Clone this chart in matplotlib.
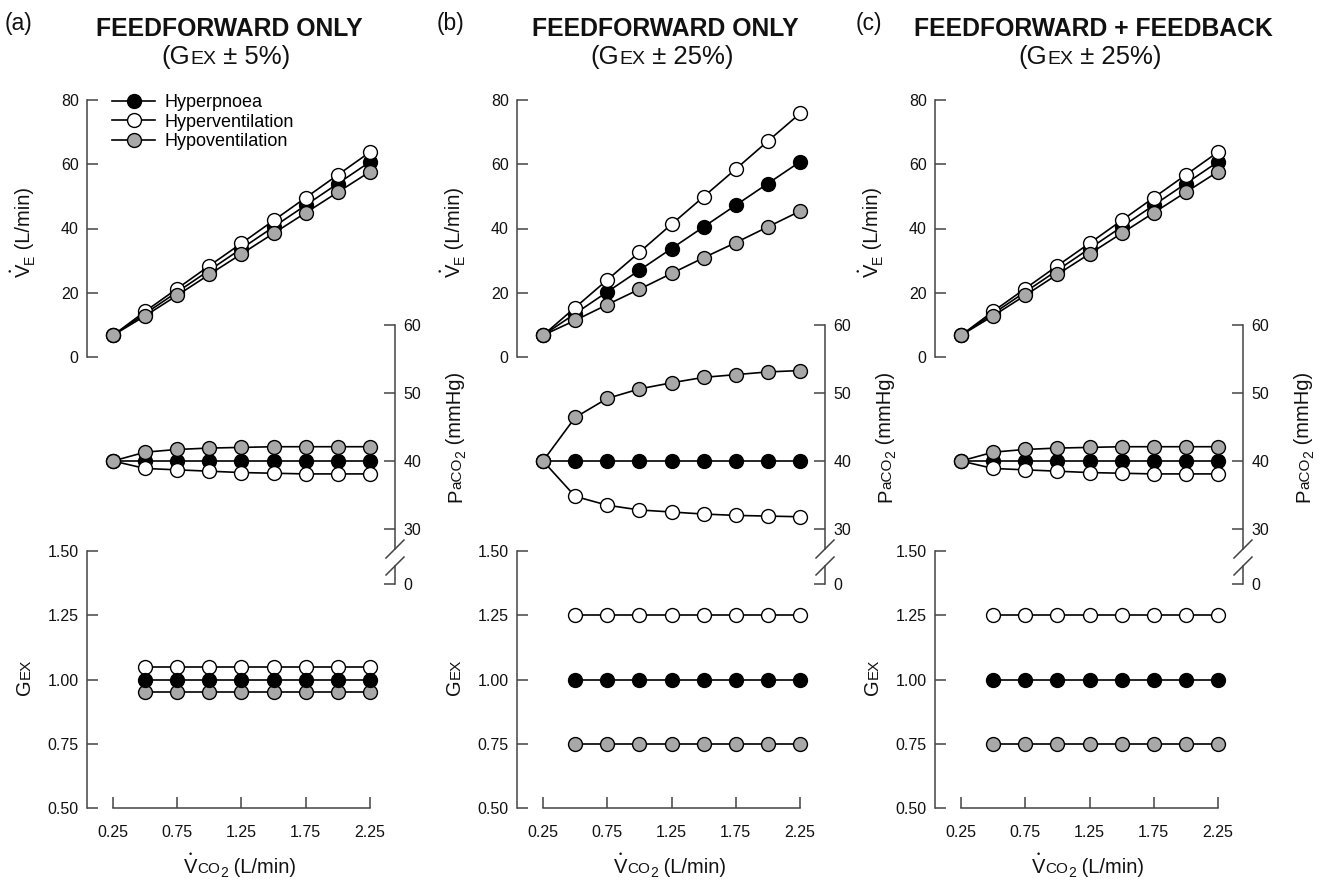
import matplotlib
matplotlib.use('Agg')
import matplotlib.pyplot as plt
from matplotlib.lines import Line2D

plt.rcParams['font.family'] = ['Liberation Sans', 'DejaVu Sans']

# ---- data ----
x_ve = [0.25, 0.5, 0.75, 1.0, 1.25, 1.5, 1.75, 2.0, 2.25]
x_gex = [0.5, 0.75, 1.0, 1.25, 1.5, 1.75, 2.0, 2.25]

ve_hyperpnoea = [6.75, 13.5, 20.25, 27.0, 33.75, 40.5, 47.25, 54.0, 60.75]
ve_a_hyperventilation = [6.75, 14.2, 21.3, 28.4, 35.4, 42.5, 49.6, 56.7, 63.8]
ve_a_hypoventilation = [6.75, 12.8, 19.2, 25.7, 32.1, 38.5, 44.9, 51.3, 57.7]
ve_b_hyperventilation = [6.75, 15.4, 24.0, 32.6, 41.3, 49.9, 58.5, 67.2, 75.8]
ve_b_hypoventilation = [6.75, 11.4, 16.3, 21.1, 26.0, 30.9, 35.6, 40.5, 45.4]

pa_hyperpnoea = [40, 40, 40, 40, 40, 40, 40, 40, 40]
pa_a_hyperventilation = [40, 38.9, 38.7, 38.5, 38.3, 38.2, 38.1, 38.1, 38.1]
pa_a_hypoventilation = [40, 41.3, 41.7, 41.9, 42.0, 42.1, 42.1, 42.1, 42.1]
pa_b_hyperventilation = [40, 34.8, 33.5, 32.8, 32.5, 32.2, 32.0, 31.9, 31.8]
pa_b_hypoventilation = [40, 46.4, 49.2, 50.6, 51.5, 52.3, 52.7, 53.1, 53.3]

gex_hyperpnoea = [1.0, 1.0, 1.0, 1.0, 1.0, 1.0, 1.0, 1.0]
gex_a_hyperventilation = [1.05, 1.05, 1.05, 1.05, 1.05, 1.05, 1.05, 1.05]
gex_a_hypoventilation = [0.95, 0.95, 0.95, 0.95, 0.95, 0.95, 0.95, 0.95]
gex_b_hyperventilation = [1.25, 1.25, 1.25, 1.25, 1.25, 1.25, 1.25, 1.25]
gex_b_hypoventilation = [0.75, 0.75, 0.75, 0.75, 0.75, 0.75, 0.75, 0.75]

series_names = ['Hyperpnoea', 'Hyperventilation', 'Hypoventilation']
series_colors = ['black', 'white', '#a8a8a8']

panel_letters = ['(a)', '(b)', '(c)']
panel_titles = ['FEEDFORWARD ONLY', 'FEEDFORWARD ONLY', 'FEEDFORWARD + FEEDBACK']
panel_pct = ['5%', '25%', '25%']

ve_ticks = [0, 20, 40, 60, 80]
pa_ticks = [30, 40, 50, 60]
gex_ticks = [0.5, 0.75, 1.0, 1.25, 1.5]
x_ticks = [0.25, 0.75, 1.25, 1.75, 2.25]

panels = [
    dict(ve=[ve_hyperpnoea, ve_a_hyperventilation, ve_a_hypoventilation],
         pa=[pa_hyperpnoea, pa_a_hyperventilation, pa_a_hypoventilation],
         gex=[gex_hyperpnoea, gex_a_hyperventilation, gex_a_hypoventilation]),
    dict(ve=[ve_hyperpnoea, ve_b_hyperventilation, ve_b_hypoventilation],
         pa=[pa_hyperpnoea, pa_b_hyperventilation, pa_b_hypoventilation],
         gex=[gex_hyperpnoea, gex_b_hyperventilation, gex_b_hypoventilation]),
    dict(ve=[ve_hyperpnoea, ve_a_hyperventilation, ve_a_hypoventilation],
         pa=[pa_hyperpnoea, pa_a_hyperventilation, pa_a_hypoventilation],
         gex=[gex_hyperpnoea, gex_b_hyperventilation, gex_b_hypoventilation]),
]

# ---- layout (pixels) ----
W, H = 1323, 886
fig = plt.figure(figsize=(W / 100, H / 100), dpi=100)
SPINE = '#444444'
TXT = '#111111'
XLIM = (0.25 - 26 / 128.5, 2.25 + 25 / 128.5)
offsets = [0, 430, 848]


def add_ax(left, top, right, bottom):
    ax = fig.add_axes([left / W, 1 - bottom / H, (right - left) / W, (bottom - top) / H])
    ax.patch.set_visible(False)
    for s in ax.spines.values():
        s.set_visible(False)
        s.set_color(SPINE)
        s.set_linewidth(1.1)
    ax.tick_params(colors=SPINE, labelcolor=TXT, labelsize=11.5,
                   direction='in', length=8, width=1.1, pad=6)
    ax.set_xlim(XLIM)
    ax.set_xticks([])
    ax.set_yticks([])
    return ax


def text_width(s, size):
    r = fig.canvas.get_renderer()
    t = fig.text(0, 0, '|' + s + '|', size=size)
    w1 = t.get_window_extent(r).width
    t.set_text('||')
    w2 = t.get_window_extent(r).width
    t.remove()
    return w1 - w2


def rich(x, y, pieces, rot=0):
    # pieces: (text, size, upward shift px); 'VDOT' = V with a dot above
    widths = [text_width('V' if s == 'VDOT' else s, sz) for s, sz, _ in pieces]
    pos = -sum(widths) / 2

    def put(a, up, s, sz, ha='left'):
        if rot == 0:
            px, py = x + a, y - up
        else:
            px, py = x - up, y - a
        fig.text(px / W, 1 - py / H, s, size=sz, ha=ha, va='baseline',
                 rotation=rot, rotation_mode='anchor', color=TXT)

    for (s, sz, sh), w in zip(pieces, widths):
        if s == 'VDOT':
            put(pos, sh, 'V', sz)
            put(pos + w / 2, sh + sz * 1.39 * 0.80, '\u2022', sz * 0.45, ha='center')
        else:
            put(pos, sh, s, sz)
        pos += w


def fig_line(x1, y1, x2, y2):
    fig.add_artist(Line2D([x1 / W, x2 / W], [1 - y1 / H, 1 - y2 / H],
                          transform=fig.transFigure, color=SPINE, lw=1.1))


def draw(ax, xs, ys_list, orders):
    hs = []
    for ys, fc, name, z in zip(ys_list, series_colors, series_names, orders):
        h, = ax.plot(xs, ys, '-o', color='black', lw=1.2, ms=10, mfc=fc,
                     mec='black', mew=1.0, clip_on=False, zorder=z, label=name)
        hs.append(h)
    return hs


for i, (p, dx) in enumerate(zip(panels, offsets)):
    # ventilation
    ax_ve = add_ax(87 + dx, 100, 395 + dx, 357)
    ax_ve.set_ylim(0, 80)
    ax_ve.spines['left'].set_visible(True)
    ax_ve.set_yticks(ve_ticks)
    handles = draw(ax_ve, x_ve, p['ve'], [3, 4, 5])
    if i == 0:
        fig.legend(handles=handles, loc='upper left',
                   bbox_to_anchor=(112 / W, 1 - 94 / H), frameon=False,
                   fontsize=13, handlelength=2.4, handletextpad=0.5,
                   labelspacing=0.15, borderpad=0, borderaxespad=0)

    # PaCO2 (upper part + stub below the break)
    ax_pa = add_ax(87 + dx, 325, 395 + dx, 549)
    ax_pa.set_ylim(30 - 20 / 6.8, 60)
    ax_pa.spines['right'].set_visible(True)
    ax_pa.yaxis.tick_right()
    ax_pa.set_yticks(pa_ticks)
    draw(ax_pa, x_ve, p['pa'], [3, 4, 5])

    ax_st = add_ax(87 + dx, 566, 395 + dx, 584)
    ax_st.set_ylim(0, 18 / 6.8)
    ax_st.spines['right'].set_visible(True)
    ax_st.yaxis.tick_right()
    ax_st.set_yticks([0])
    fig_line(386 + dx, 558, 404 + dx, 540)
    fig_line(386 + dx, 575, 404 + dx, 557)

    # Gex
    ax_g = add_ax(87 + dx, 551, 395 + dx, 808)
    ax_g.set_ylim(0.5, 1.5)
    ax_g.spines['left'].set_visible(True)
    ax_g.spines['bottom'].set_visible(True)
    ax_g.spines['bottom'].set_bounds(0.25, 2.25)
    ax_g.set_yticks(gex_ticks)
    ax_g.set_yticklabels(['%.2f' % t for t in gex_ticks])
    ax_g.set_xticks(x_ticks)
    ax_g.set_xticklabels(['%.2f' % t for t in x_ticks])
    ax_g.tick_params(axis='x', pad=12)
    draw(ax_g, x_gex, p['gex'], [5, 4, 3])

    # texts
    fig.text((5 + [0, 432, 851][i]) / W, 1 - 30 / H, panel_letters[i], size=16.5,
             ha='left', va='baseline', color=TXT)
    tc = [229, 665, 1093][i]
    fig.text(tc / W, 1 - 36 / H, panel_titles[i], size=17.8, weight='bold',
             ha='center', va='baseline', color=TXT)
    rich(tc - 3, 64, [('(G', 18.5, 0), ('EX', 14, 0), (' \u00b1 ' + panel_pct[i] + ')', 18.5, 0)])

    rich(30 + dx, 232, [('VDOT', 14.5, 0), ('E', 10, -4), (' (L/min)', 14.5, 0)], rot=90)
    rich(461 + dx, 437, [('P', 14.5, 0), ('aCO', 11, 0), ('2', 10, -4), (' (mmHg)', 14.5, 0)], rot=90)
    rich(30 + dx, 677, [('G', 14.5, 0), ('EX', 11, 0)], rot=90)
    rich(240 + dx, 873, [('VDOT', 14.5, 0), ('CO', 11, 0), ('2', 10, -4), (' (L/min)', 14.5, 0)])

fig.savefig('out.png', dpi=100)
